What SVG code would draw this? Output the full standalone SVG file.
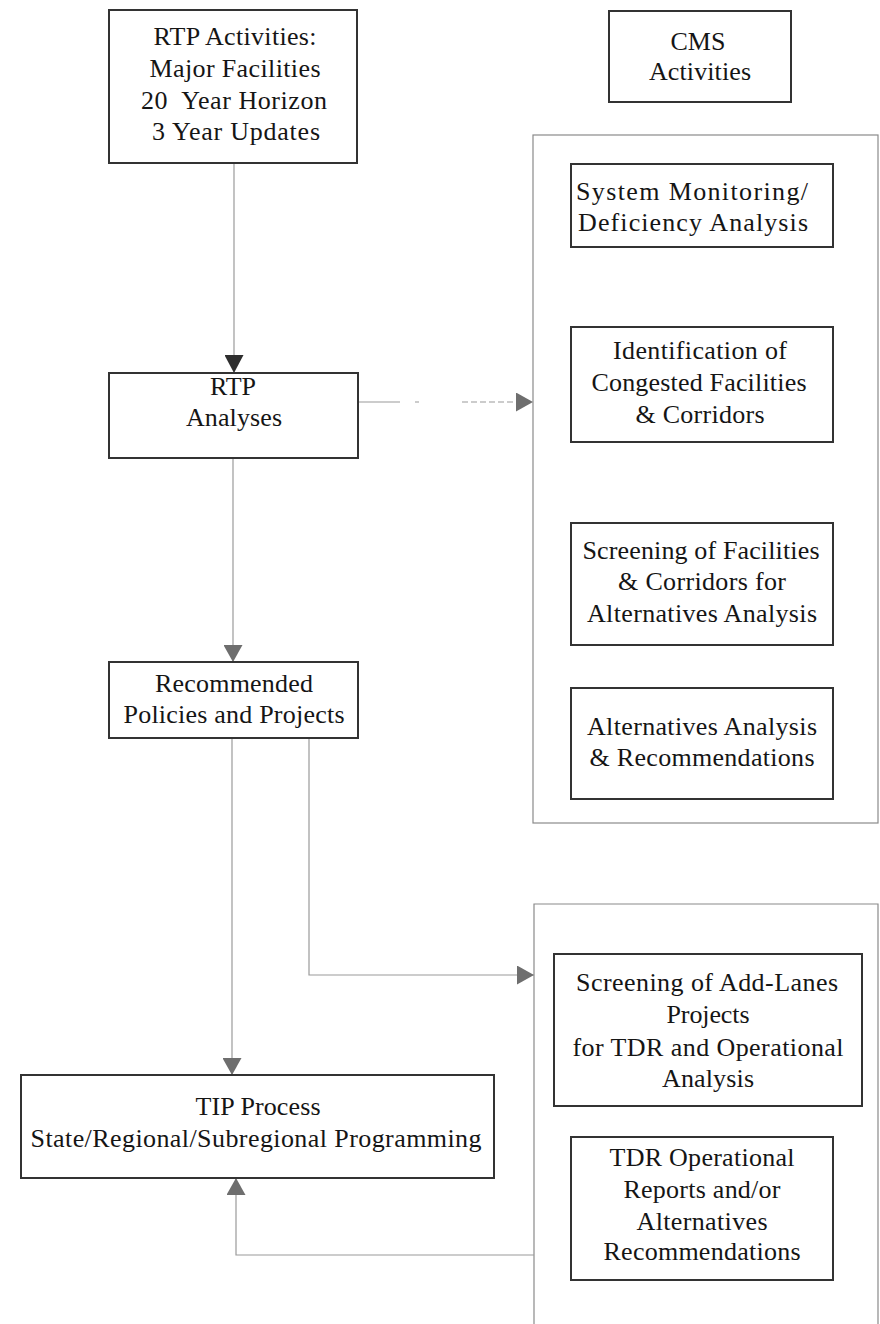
<svg xmlns="http://www.w3.org/2000/svg" width="880" height="1324" viewBox="0 0 880 1324">
<style>
.bg{fill:#ffffff}
.box{fill:#ffffff;stroke:#333333;stroke-width:2}
.cont{fill:none;stroke:#8a8a8a;stroke-width:1.2}
.t{font-family:"Liberation Serif","Times New Roman",serif;font-size:26px;fill:#151515;text-anchor:middle}
.ln{fill:none;stroke:#9a9a9a;stroke-width:1.2}
</style>
<defs>
<marker id="ahd" markerUnits="userSpaceOnUse" markerWidth="18" markerHeight="19" refX="18" refY="9.5" orient="auto">
<path d="M0,0 L18,9.5 L0,19 z" fill="#2e2e2e"/>
</marker>
<marker id="ahg" markerUnits="userSpaceOnUse" markerWidth="17" markerHeight="19" refX="17" refY="9.5" orient="auto">
<path d="M0,0 L17,9.5 L0,19 z" fill="#6e6e6e"/>
</marker>
</defs>
<rect class="bg" x="0" y="0" width="880" height="1324"/>

<g id="cms-container">
<rect class="cont" x="533" y="135" width="345" height="688"/>
</g>
<g id="tdr-container">
<path class="cont" d="M534,1324 V904 H878 V1324"/>
</g>

<g id="connectors">
<path class="ln" d="M234,163 V373" marker-end="url(#ahd)"/>
<path class="ln" d="M358,402 H400 M415,402 H419"/>
<path class="ln" d="M462,402 H533" stroke-dasharray="6 3" marker-end="url(#ahg)"/>
<path class="ln" d="M233,458 V662" marker-end="url(#ahg)"/>
<path class="ln" d="M232,738 V1075" marker-end="url(#ahg)"/>
<path class="ln" d="M309,738 V975 H534" marker-end="url(#ahg)"/>
<path class="ln" d="M534,1255 H236 V1178" marker-end="url(#ahg)"/>
</g>

<g id="rtp-activities">
<rect class="box" x="109" y="10" width="248" height="153"/>
<text class="t" x="235" y="45" textLength="163" lengthAdjust="spacing">RTP Activities:</text>
<text class="t" x="235" y="77" textLength="171" lengthAdjust="spacing">Major Facilities</text>
<text class="t" x="234" y="109" textLength="186" lengthAdjust="spacing">20&#160; Year Horizon</text>
<text class="t" x="236" y="140" textLength="168" lengthAdjust="spacing">3 Year Updates</text>
</g>

<g id="cms-activities">
<rect class="box" x="609" y="11" width="182" height="91"/>
<text class="t" x="698" y="50">CMS</text>
<text class="t" x="700" y="80" textLength="102" lengthAdjust="spacing">Activities</text>
</g>

<g id="system-monitoring">
<rect class="box" x="571" y="164" width="262" height="83"/>
<text class="t" x="692" y="200" textLength="232" lengthAdjust="spacing">System Monitoring/</text>
<text class="t" x="693" y="231" textLength="230" lengthAdjust="spacing">Deficiency Analysis</text>
</g>

<g id="rtp-analyses">
<rect class="box" x="109" y="373" width="249" height="85"/>
<text class="t" x="233" y="395">RTP</text>
<text class="t" x="234" y="426" textLength="96" lengthAdjust="spacing">Analyses</text>
</g>

<g id="identification">
<rect class="box" x="571" y="327" width="262" height="115"/>
<text class="t" x="700" y="359" textLength="174" lengthAdjust="spacing">Identification of</text>
<text class="t" x="699" y="391" textLength="215" lengthAdjust="spacing">Congested Facilities</text>
<text class="t" x="700" y="423" textLength="129" lengthAdjust="spacing">&amp; Corridors</text>
</g>

<g id="screening-facilities">
<rect class="box" x="571" y="523" width="262" height="122"/>
<text class="t" x="701" y="559" textLength="237" lengthAdjust="spacing">Screening of Facilities</text>
<text class="t" x="702" y="590" textLength="168" lengthAdjust="spacing">&amp; Corridors for</text>
<text class="t" x="702" y="622" textLength="230" lengthAdjust="spacing">Alternatives Analysis</text>
</g>

<g id="recommended">
<rect class="box" x="109" y="662" width="249" height="76"/>
<text class="t" x="234" y="692" textLength="158" lengthAdjust="spacing">Recommended</text>
<text class="t" x="234" y="723" textLength="221" lengthAdjust="spacing">Policies and Projects</text>
</g>

<g id="alternatives-analysis">
<rect class="box" x="571" y="688" width="262" height="111"/>
<text class="t" x="702" y="735" textLength="230" lengthAdjust="spacing">Alternatives Analysis</text>
<text class="t" x="702" y="766" textLength="225" lengthAdjust="spacing">&amp; Recommendations</text>
</g>

<g id="add-lanes">
<rect class="box" x="554" y="954" width="308" height="152"/>
<text class="t" x="707" y="991" textLength="262" lengthAdjust="spacing">Screening of Add-Lanes</text>
<text class="t" x="708" y="1023" textLength="83" lengthAdjust="spacing">Projects</text>
<text class="t" x="708" y="1056" textLength="271" lengthAdjust="spacing">for TDR and Operational</text>
<text class="t" x="708" y="1087" textLength="92" lengthAdjust="spacing">Analysis</text>
</g>

<g id="tip-process">
<rect class="box" x="21" y="1075" width="473" height="103"/>
<text class="t" x="258" y="1115" textLength="125" lengthAdjust="spacing">TIP Process</text>
<text class="t" x="256" y="1147" textLength="451" lengthAdjust="spacing">State/Regional/Subregional Programming</text>
</g>

<g id="tdr-reports">
<rect class="box" x="571" y="1137" width="262" height="143"/>
<text class="t" x="702" y="1166" textLength="185" lengthAdjust="spacing">TDR Operational</text>
<text class="t" x="702" y="1198" textLength="157" lengthAdjust="spacing">Reports and/or</text>
<text class="t" x="702" y="1230" textLength="131" lengthAdjust="spacing">Alternatives</text>
<text class="t" x="702" y="1260" textLength="197" lengthAdjust="spacing">Recommendations</text>
</g>
</svg>
